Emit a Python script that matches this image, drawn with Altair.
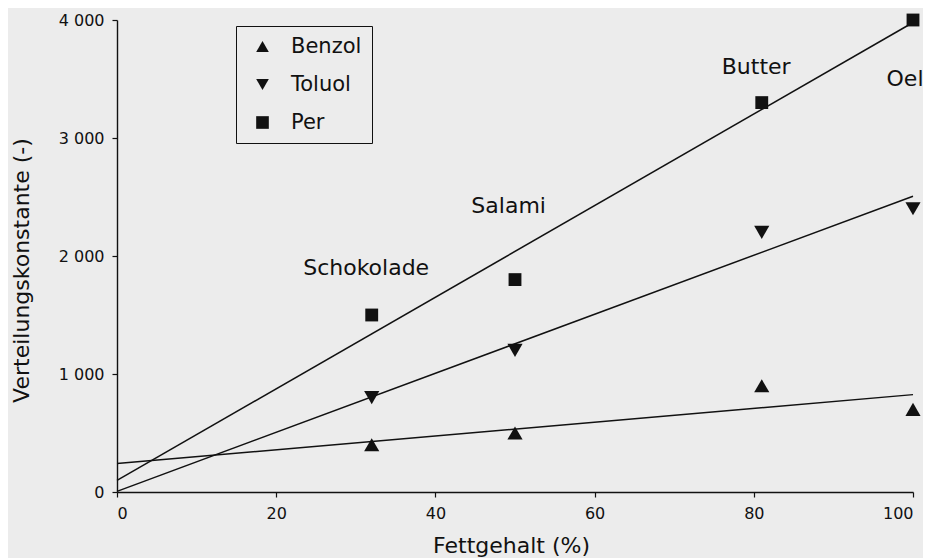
import altair as alt
import pandas as pd

# ---- data ----
fat = [32, 50, 81, 100]                       # Fettgehalt (%)
foods = ["Schokolade", "Salami", "Butter", "Oel"]
benzol = [400, 500, 900, 700]
toluol = [800, 1200, 2200, 2400]
per = [1500, 1800, 3300, 4000]
series = ["Benzol", "Toluol", "Per"]
shapes = ["triangle-up", "triangle-down", "square"]
label_x = [31.3, 49.2, 80.3, 99.0]
label_y = [1900, 2420, 3600, 3500]
x_ticks = [0, 20, 40, 60, 80, 100]
y_ticks = [0, 1000, 2000, 3000, 4000]

rows = []
for s, vals in zip(series, [benzol, toluol, per]):
    for f, food, v in zip(fat, foods, vals):
        rows.append({"series": s, "fat": f, "food": food, "k": v})
df = pd.DataFrame(rows)
labels = pd.DataFrame({"food": foods, "x": label_x, "y": label_y})

FONT = "DejaVu Sans"
INK = "#111111"

xscale = alt.Scale(domain=[0, 100], nice=False, zero=False)
yscale = alt.Scale(domain=[0, 4000], nice=False)

xaxis = alt.Axis(values=x_ticks, title="Fettgehalt (%)", titleX=394, titleY=60,
                 titleBaseline="alphabetic", titleAlign="center")
yaxis = alt.Axis(values=y_ticks, title="Verteilungskonstante (-)",
                 labelExpr="replace(format(datum.value, ','), ',', ' ')",
                 titleX=-96, titleY=250, titleBaseline="middle", titleAlign="center",
                 titleAngle=270)

shape_enc = alt.Shape(
    "series:N",
    scale=alt.Scale(domain=series, range=shapes),
    legend=alt.Legend(
        title=None, orient="none", legendX=119, legendY=6,
        strokeColor=INK, fillColor="#ececec", padding=10,
        labelFontSize=21, labelFont=FONT, labelColor=INK,
        symbolSize=160, symbolFillColor=INK, symbolStrokeWidth=0,
        symbolOffset=6, rowPadding=16, labelOffset=18,
        cornerRadius=0,
    ),
)

base = alt.Chart(df)

lines = base.transform_regression(
    "fat", "k", groupby=["series"], extent=[0, 100]
).mark_line(color=INK, strokeWidth=1.5).encode(
    x=alt.X("fat:Q", scale=xscale, axis=xaxis),
    y=alt.Y("k:Q", scale=yscale, axis=yaxis),
    detail="series:N",
)

tri = base.transform_filter("datum.series != 'Per'").mark_point(
    filled=True, color=INK, opacity=1, size=230
).encode(
    x=alt.X("fat:Q", scale=xscale),
    y=alt.Y("k:Q", scale=yscale),
    shape=shape_enc,
)

sq = base.transform_filter("datum.series == 'Per'").mark_point(
    filled=True, color=INK, opacity=1, size=165
).encode(
    x=alt.X("fat:Q", scale=xscale),
    y=alt.Y("k:Q", scale=yscale),
    shape=shape_enc,
)

texts = alt.Chart(labels).mark_text(
    font=FONT, fontSize=22, color=INK, align="center", baseline="middle"
).encode(
    x=alt.X("x:Q", scale=xscale),
    y=alt.Y("y:Q", scale=yscale),
    text="food:N",
)

chart = alt.layer(lines, tri, sq, texts).properties(
    width=796, height=472,
    background="#ececec",
    autosize=alt.AutoSizeParams(type="none"),
    padding={"left": 109, "top": 12, "right": 10, "bottom": 66},
).configure_view(stroke=None).configure_axis(
    grid=False, domainColor=INK, tickColor=INK, labelColor=INK, titleColor=INK,
    domainWidth=1.4, tickWidth=1.2, tickSize=5,
    labelFont=FONT, titleFont=FONT, labelFontSize=16, titleFontSize=22,
    titleFontWeight="normal", labelPadding=8,
)

chart.save("out.html", embed_options={"renderer": "svg", "actions": False})
